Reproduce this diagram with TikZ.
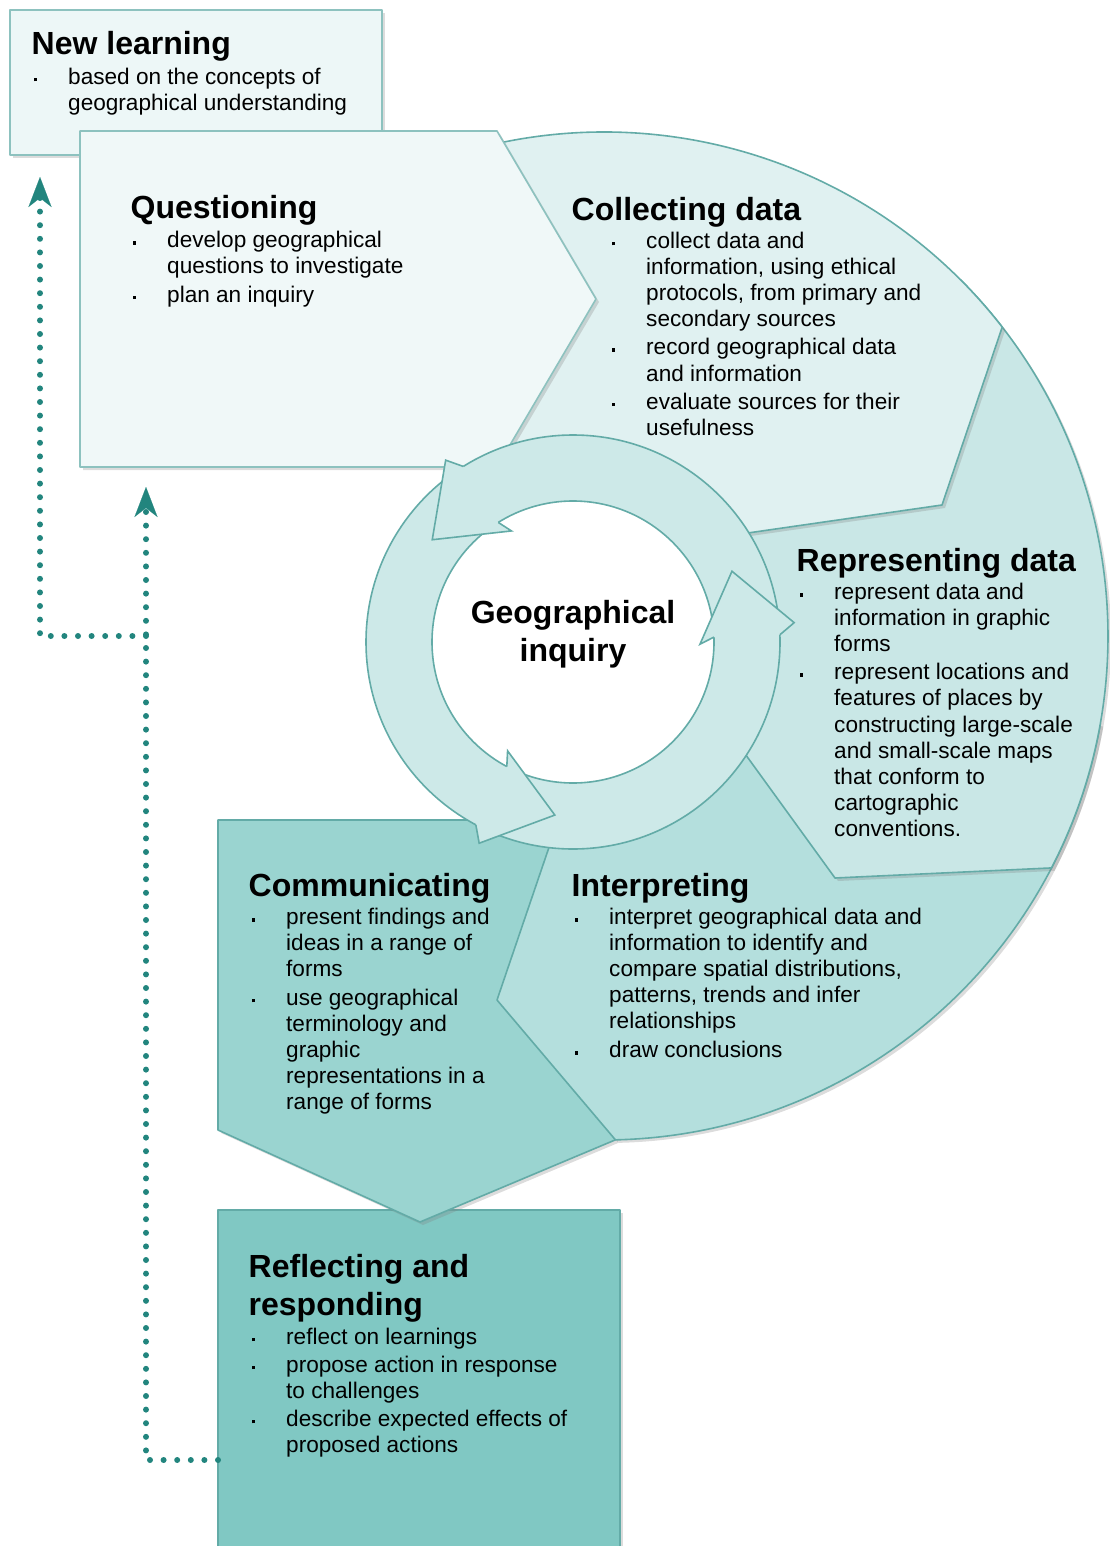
\documentclass[tikz,border=0pt]{standalone}
\usepackage{fontspec}
\setmainfont{Liberation Sans}
\usetikzlibrary{arrows.meta,shadows,calc}
\definecolor{cNew}{HTML}{EDF7F7}
\definecolor{cQue}{HTML}{F0F8F8}
\definecolor{cCol}{HTML}{E0F1F1}
\definecolor{cRep}{HTML}{C9E7E6}
\definecolor{cInt}{HTML}{B4DFDD}
\definecolor{cCom}{HTML}{9AD4D0}
\definecolor{cRef}{HTML}{80C8C3}
\definecolor{cRing}{HTML}{CDE9E8}
\definecolor{cLine}{HTML}{63ABA7}
\definecolor{cLineL}{HTML}{8DC2BF}
\definecolor{cDot}{HTML}{22857E}
\newcommand{\sqbul}{\leavevmode\kern0.6pt\raisebox{3pt}{\rule{3.4pt}{3.4pt}}}
\tikzset{
  region/.style={draw=cLine, line width=1.6pt, line join=round,
    drop shadow={opacity=0.28, shadow xshift=3pt, shadow yshift=-3pt}},
  boxnode/.style={region, anchor=north west, inner sep=0pt, outer sep=0pt},
  ttl/.style={anchor=base west, inner sep=0pt, font=\bfseries\fontsize{32}{38}\selectfont},
  lst/.style={anchor=base west, inner sep=0pt, font=\fontsize{22.6}{26.1}\selectfont},
  dotline/.style={cDot, line width=6pt, line cap=round, dash pattern=on 0pt off 13.6pt},
  dottip/.style={-{Stealth[length=30pt,width=23pt,inset=9pt,line width=0.1pt]}},
  ringline/.style={draw=cLine, line width=1.6pt},
}
\begin{document}
\begin{tikzpicture}[x=1pt,y=-1pt]
\useasboundingbox (0,0) rectangle (1110,1546);
\coordinate (C) at (604,636);
\coordinate (R) at (573,642);

% Reflecting and responding
\node[boxnode, fill=cRef, minimum width=402pt, minimum height=360pt] (refl) at (218,1210) {};
% Communicating
\path[region, fill=cCom] (218,820) -- (600,820) -- (600,1000) -- (615,1140) -- (420,1222) -- (218,1130) -- cycle;
% Interpreting
\path[region, fill=cInt] (R) -- (560,815) -- (497,1000) -- ($(C)+(-88.7:504pt)$)
  arc[start angle=-88.7, end angle=-10, radius=504pt] -- cycle;
% Representing data
\path[region, fill=cRep] (R) -- (735,740) -- (835,878) -- ($(C)+(-27.4:504pt)$)
  arc[start angle=-27.4, end angle=45, radius=504pt] -- cycle;
% Collecting data
\path[region, fill=cCol] (R) -- (720,537) -- (942,505) -- ($(C)+(37.8:504pt)$)
  arc[start angle=37.8, end angle=103, radius=504pt] -- (470,450) -- cycle;
% New learning
\node[boxnode, fill=cNew, draw=cLineL, minimum width=372pt, minimum height=145pt] (newl) at (10,10) {};
% Questioning
\path[region, fill=cQue, draw=cLineL] (80,131) -- (497,131) -- (596,299) -- (497,467) -- (80,467) -- cycle;

% central ring
\path[ringline, fill=cRing] (R) circle[radius=207pt];
\path[ringline, fill=white] (R) circle[radius=141pt];
\foreach \b in {2,122,242}{
  \path[ringline, fill=cRing, line join=miter]
    ($(R)+(\b:207pt)$) -- ($(R)+(\b+3:222pt)$) -- ($(R)+(\b+22:174pt)$)
    -- ($(R)+(\b-3:127pt)$) -- ($(R)+(\b:141pt)$);
}

% dotted connectors
\coordinate (k1) at (146,1460);
\coordinate (k2) at (146,636);
\coordinate (k3) at (40,636);
\coordinate (qb) at (146,467);
\coordinate (nb) at (40,155);
\draw[dotline, dottip, shorten >=20pt] ($(refl.north west)+(0,250)$) -- (k1) -- (qb);
\draw[dotline, dottip, shorten >=22pt] (k2) -- (k3) -- (nb);

% texts
\node[ttl] (tNew) at (31.5,54.5) {New learning};
\node[lst] (lNew) at (33,84.5) {\begin{tabular}[t]{@{}p{35pt}@{}l@{}}
\sqbul & based on the concepts of\\
  & geographical understanding
\end{tabular}};

\node[ttl] (tQue) at (130.5,218.5) {Questioning};
\node[lst] (lQue) at (132,247.5) {\begin{tabular}[t]{@{}p{35pt}@{}l@{}}
\sqbul & develop geographical\\
  & questions to investigate\\[2.5pt]
\sqbul & plan an inquiry
\end{tabular}};

\node[ttl] (tCol) at (571.5,220.5) {Collecting data};
\node[lst] (lCol) at (611,248.5) {\begin{tabular}[t]{@{}p{35pt}@{}l@{}}
\sqbul & collect data and\\
  & information, using ethical\\
  & protocols, from primary and\\
  & secondary sources\\[2pt]
\sqbul & record geographical data\\
  & and information\\[2pt]
\sqbul & evaluate sources for their\\
  & usefulness
\end{tabular}};

\node[ttl] (tRep) at (796.5,571.5) {Representing data};
\node[lst] (lRep) at (799,599.5) {\begin{tabular}[t]{@{}p{35pt}@{}l@{}}
\sqbul & represent data and\\
  & information in graphic\\
  & forms\\[2pt]
\sqbul & represent locations and\\
  & features of places by\\
  & constructing large-scale\\
  & and small-scale maps\\
  & that conform to\\
  & cartographic\\
  & conventions.
\end{tabular}};

\node[ttl] (tInt) at (571.5,896.5) {Interpreting};
\node[lst] (lInt) at (574,924.5) {\begin{tabular}[t]{@{}p{35pt}@{}l@{}}
\sqbul & interpret geographical data and\\
  & information to identify and\\
  & compare spatial distributions,\\
  & patterns, trends and infer\\
  & relationships\\[2.5pt]
\sqbul & draw conclusions
\end{tabular}};

\node[ttl] (tCom) at (248.5,896.5) {Communicating};
\node[lst] (lCom) at (251,924.5) {\begin{tabular}[t]{@{}p{35pt}@{}l@{}}
\sqbul & present findings and\\
  & ideas in a range of\\
  & forms\\[2.5pt]
\sqbul & use geographical\\
  & terminology and\\
  & graphic\\
  & representations in a\\
  & range of forms
\end{tabular}};

\node[ttl] (tRef) at (248.5,1277.5) {\begin{tabular}[t]{@{}l@{}}Reflecting and\\responding\end{tabular}};
\node[lst] (lRef) at (251,1344) {\begin{tabular}[t]{@{}p{35pt}@{}l@{}}
\sqbul & reflect on learnings\\[2pt]
\sqbul & propose action in response\\
  & to challenges\\[2pt]
\sqbul & describe expected effects of\\
  & proposed actions
\end{tabular}};

\node[anchor=base, inner sep=0pt, font=\bfseries\fontsize{32}{38}\selectfont] (tGeo) at (573,623)
  {\begin{tabular}[t]{@{}c@{}}Geographical\\inquiry\end{tabular}};
\end{tikzpicture}
\end{document}
